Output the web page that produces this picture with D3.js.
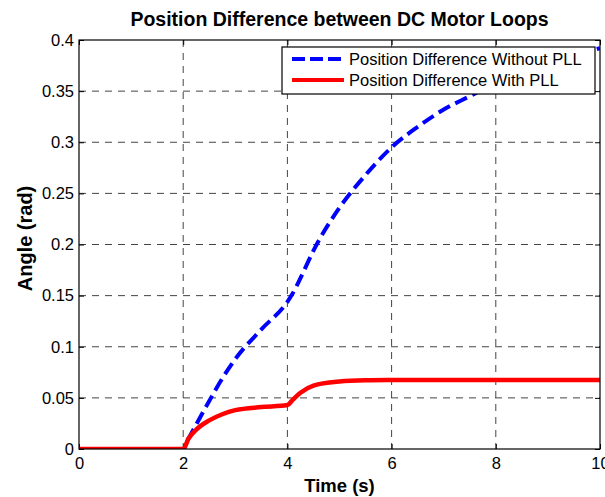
<!DOCTYPE html>
<html>
<head>
<meta charset="utf-8">
<script src="https://cdn.jsdelivr.net/npm/d3@7"></script>
<style>
  body { margin: 0; background: #fff; }
  text { font-family: "Liberation Sans", Arial, Helvetica, sans-serif; }
</style>
</head>
<body>
<div id="vis"></div>
<script>
// time samples (s)
const times = [0, 1, 2, 2.1, 2.25, 2.5, 2.75, 3, 3.5, 4, 4.1, 4.25, 4.5, 5, 5.5, 6, 6.5, 7, 7.5, 8, 8.5, 9, 9.5, 10];
// position difference without PLL (rad)
const withoutPll = [0, 0, 0, 0.010, 0.024, 0.047, 0.069, 0.088, 0.117, 0.144, 0.152, 0.167, 0.194, 0.236, 0.268, 0.295, 0.315, 0.332, 0.345, 0.358, 0.368, 0.377, 0.385, 0.392];
// position difference with PLL (rad)
const withPll = [0, 0, 0, 0.010, 0.019, 0.028, 0.034, 0.038, 0.041, 0.043, 0.048, 0.055, 0.062, 0.066, 0.0672, 0.0675, 0.0676, 0.0676, 0.0676, 0.0676, 0.0676, 0.0676, 0.0676, 0.0676];

const xTicks = [0, 2, 4, 6, 8, 10];
const yTicks = [0, 0.05, 0.1, 0.15, 0.2, 0.25, 0.3, 0.35, 0.4];
const seriesNames = ["Position Difference Without PLL", "Position Difference With PLL"];

const width = 605;
const height = 497;
const margin = { top: 40, right: 5, bottom: 48, left: 79 };
const innerW = width - margin.left - margin.right;
const innerH = height - margin.top - margin.bottom;

const svg = d3.select("#vis")
  .append("svg")
  .attr("width", width)
  .attr("height", height);

const x = d3.scaleLinear().domain([0, 10]).range([0, innerW]);
const y = d3.scaleLinear().domain([0, 0.4]).range([innerH, 0]);

const g = svg.append("g").attr("transform", `translate(${margin.left},${margin.top})`);

svg.append("defs").append("clipPath").attr("id", "clip")
  .append("rect").attr("width", innerW).attr("height", innerH);

// grid
g.append("g")
  .selectAll("line")
  .data(xTicks.slice(1, -1))
  .enter().append("line")
  .attr("x1", d => x(d)).attr("x2", d => x(d))
  .attr("y1", 0).attr("y2", innerH)
  .attr("stroke", "#444").attr("stroke-width", 1)
  .attr("stroke-dasharray", "7,6");

g.append("g")
  .selectAll("line")
  .data(yTicks.slice(1, -1))
  .enter().append("line")
  .attr("x1", 0).attr("x2", innerW)
  .attr("y1", d => y(d)).attr("y2", d => y(d))
  .attr("stroke", "#444").attr("stroke-width", 1)
  .attr("stroke-dasharray", "7,6");

// axes with inward ticks
const xAxis = g.append("g")
  .attr("transform", `translate(0,${innerH})`)
  .call(d3.axisBottom(x).tickValues(xTicks).tickSizeInner(-5).tickSizeOuter(0).tickPadding(8).tickFormat(d3.format("d")));
const yAxis = g.append("g")
  .call(d3.axisLeft(y).tickValues(yTicks).tickSizeInner(-5).tickSizeOuter(0).tickPadding(5).tickFormat(d => d === 0 ? "0" : String(d)));
g.append("g")
  .call(d3.axisTop(x).tickValues(xTicks).tickSizeInner(-5).tickSizeOuter(0).tickFormat(""));
g.append("g")
  .attr("transform", `translate(${innerW},0)`)
  .call(d3.axisRight(y).tickValues(yTicks).tickSizeInner(-5).tickSizeOuter(0).tickFormat(""));

g.selectAll(".domain").remove();
g.selectAll(".tick line").attr("stroke", "#000");
[xAxis, yAxis].forEach(a => a.selectAll("text")
  .style("font-size", "16.5px")
  .attr("fill", "#000"));

// lines
const line = vals => d3.line()
  .x((d, i) => x(times[i]))
  .y(d => y(d))
  .curve(d3.curveMonotoneX)(vals);

const plot = g.append("g").attr("clip-path", "url(#clip)");

plot.append("path")
  .attr("d", line(withoutPll))
  .attr("fill", "none")
  .attr("stroke", "#0000ff")
  .attr("stroke-width", 4)
  .attr("stroke-dasharray", "13,6");

plot.append("path")
  .attr("d", line(withPll))
  .attr("fill", "none")
  .attr("stroke", "#ff0000")
  .attr("stroke-width", 4.5);

// box
g.append("rect")
  .attr("width", innerW).attr("height", innerH)
  .attr("fill", "none").attr("stroke", "#000").attr("stroke-width", 1.2);

// legend
const legend = svg.append("g").attr("transform", "translate(282,47)");
legend.append("rect")
  .attr("width", 313).attr("height", 47)
  .attr("fill", "#fff").attr("stroke", "#000").attr("stroke-width", 1.2);

const entries = legend.selectAll(".entry")
  .data(seriesNames)
  .enter().append("g")
  .attr("transform", (d, i) => `translate(0,${12 + i * 21})`);

entries.append("line")
  .attr("x1", 10).attr("x2", 62)
  .attr("y1", 0).attr("y2", 0)
  .attr("stroke", (d, i) => i === 0 ? "#0000ff" : "#ff0000")
  .attr("stroke-width", 4)
  .attr("stroke-dasharray", (d, i) => i === 0 ? "13,5" : null);

entries.append("text")
  .attr("x", 67).attr("y", 0).attr("dy", "0.35em")
  .style("font-size", "16.5px")
  .text(d => d);

// title and labels
svg.append("text")
  .attr("x", margin.left + innerW / 2).attr("y", 26)
  .attr("text-anchor", "middle")
  .style("font-size", "19.5px").style("font-weight", "bold")
  .text("Position Difference between DC Motor Loops");

svg.append("text")
  .attr("x", margin.left + innerW / 2).attr("y", 492)
  .attr("text-anchor", "middle")
  .style("font-size", "18.5px").style("font-weight", "bold")
  .text("Time (s)");

svg.append("text")
  .attr("transform", `translate(32,${margin.top + innerH / 2 - 6}) rotate(-90)`)
  .attr("text-anchor", "middle")
  .style("font-size", "20px").style("font-weight", "bold")
  .text("Angle (rad)");
</script>
</body>
</html>
